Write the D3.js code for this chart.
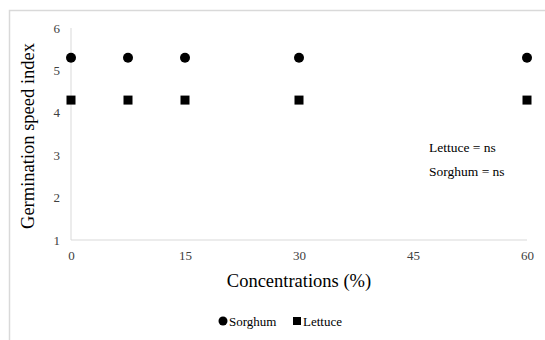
<!DOCTYPE html>
<html><head><meta charset="utf-8">
<script src="https://cdn.jsdelivr.net/npm/d3@7"></script>
<style>body{margin:0;background:#fff;} text{font-family:"Liberation Serif","Times New Roman",serif;}</style>
</head><body><svg id="c" width="545" height="340"></svg>
<script>
const concentrations = [0, 7.5, 15, 30, 60];
const sorghum = [5.3, 5.3, 5.3, 5.3, 5.3];
const lettuce = [4.3, 4.3, 4.3, 4.3, 4.3];
const xTicks = [0, 15, 30, 45, 60];
const yTicks = [1, 2, 3, 4, 5, 6];
const annotations = ["Lettuce = ns", "Sorghum = ns"];

const svg = d3.select("#c");
// outer frame (only top/left visible)
svg.append("rect").attr("x", 9.5).attr("y", 10.5).attr("width", 600).attr("height", 400)
  .attr("fill", "none").attr("stroke", "#d9d9d9").attr("stroke-width", 1.5);

const x = d3.scaleLinear().domain([0, 60]).range([71, 527]);
const y = d3.scaleLinear().domain([1, 6]).range([240, 28]);

// axes lines
svg.append("line").attr("x1", x(0)).attr("x2", x(0)).attr("y1", y(6)).attr("y2", y(1)).attr("stroke", "#d9d9d9");
svg.append("line").attr("x1", x(0)).attr("x2", x(60)).attr("y1", y(1)).attr("y2", y(1)).attr("stroke", "#d9d9d9");

const yAxis = svg.append("g").attr("transform", `translate(${x(0)},0)`)
  .call(d3.axisLeft(y).tickValues(yTicks).tickSize(0).tickPadding(11).tickFormat(d3.format("d")));
yAxis.select(".domain").remove();
yAxis.selectAll("text").attr("font-size", 13).attr("fill", "#404040").attr("font-family", "Liberation Serif");

const xAxis = svg.append("g").attr("transform", `translate(0,${y(1)})`)
  .call(d3.axisBottom(x).tickValues(xTicks).tickSize(0).tickPadding(11).tickFormat(d3.format("d")));
xAxis.select(".domain").remove();
xAxis.selectAll("text").attr("font-size", 13).attr("fill", "#404040").attr("font-family", "Liberation Serif");

// titles
svg.append("text").attr("transform", `translate(34,136) rotate(-90)`).attr("text-anchor", "middle")
  .attr("font-size", 18.5).attr("fill", "#000").text("Germination speed index");
svg.append("text").attr("x", x(30)).attr("y", 287).attr("text-anchor", "middle")
  .attr("font-size", 18.5).attr("fill", "#000").text("Concentrations (%)");

// points
const sData = concentrations.map((c, i) => ({c, v: sorghum[i]}));
const lData = concentrations.map((c, i) => ({c, v: lettuce[i]}));
svg.append("g").selectAll("circle").data(sData).join("circle")
  .attr("cx", d => x(d.c)).attr("cy", d => y(d.v)).attr("r", 5).attr("fill", "#000");
svg.append("g").selectAll("rect").data(lData).join("rect")
  .attr("x", d => x(d.c) - 4.5).attr("y", d => y(d.v) - 4.5).attr("width", 9).attr("height", 9).attr("fill", "#000");

// annotations
svg.selectAll(".ann").data(annotations).join("text").attr("class", "ann")
  .attr("x", 429).attr("y", (d, i) => 152 + i * 24).attr("font-size", 13.5).attr("fill", "#000").text(d => d);

// legend
const lg = svg.append("g");
lg.append("circle").attr("cx", 223).attr("cy", 321).attr("r", 4.5).attr("fill", "#000");
lg.append("text").attr("x", 229).attr("y", 325.5).attr("font-size", 13).attr("fill", "#000").text("Sorghum");
lg.append("rect").attr("x", 293).attr("y", 317).attr("width", 8).attr("height", 8).attr("fill", "#000");
lg.append("text").attr("x", 303).attr("y", 325.5).attr("font-size", 13).attr("fill", "#000").text("Lettuce");
</script></body></html>
